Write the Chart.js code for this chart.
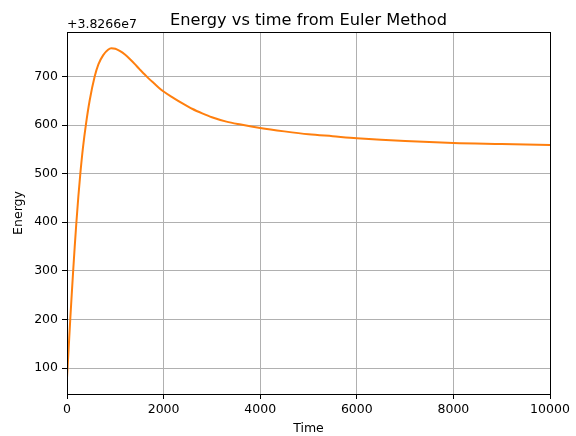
<!DOCTYPE html>
<html>
<head>
<meta charset="utf-8">
<script src="https://cdn.jsdelivr.net/npm/chart.js@4/dist/chart.umd.min.js"></script>
<style>
  html, body { margin: 0; padding: 0; background: #fff; }
  #wrap { width: 576px; height: 436px; }
</style>
</head>
<body>
<div id="wrap"><canvas id="energyChart" width="576" height="436"></canvas></div>
<script>
// energy offset shown on the axis (+3.8266e7), values below are relative to it
const energyOffsetLabel = "+3.8266e7";
const chartTitle = "Energy vs time from Euler Method";
const times = [0, 30, 69, 100, 124, 160, 193, 235, 276, 330, 393, 470, 573, 650, 750, 850, 917,
  1000, 1100, 1200, 1300, 1400, 1500, 1600, 1700, 1800, 1900, 2000, 2200, 2400, 2600, 2800,
  3000, 3300, 3600, 4000, 4500, 5000, 5500, 6000, 7000, 8000, 9000, 10000];
const energies = [80, 133, 203, 255, 294, 350, 398, 453, 500, 553, 602, 651, 700, 725, 744, 755, 758,
  757, 752, 745, 736, 726, 715, 705, 695, 686, 677, 669, 656, 644, 633, 624,
  616, 607, 601, 594, 587, 581, 577, 573, 567, 563, 561, 559];
const xTicks = [0, 2000, 4000, 6000, 8000, 10000];
const yTicks = [100, 200, 300, 400, 500, 600, 700];

const font = "'DejaVu Sans', sans-serif";

const points = times.map((t, i) => ({ x: t, y: energies[i] }));

// spines, title and offset text, like matplotlib
const framePlugin = {
  id: "frame",
  afterDatasetsDraw(chart) {
    const { ctx, chartArea: a } = chart;
    ctx.save();
    ctx.strokeStyle = "#000";
    ctx.lineWidth = 1;
    ctx.strokeRect(Math.round(a.left) + 0.5, Math.round(a.top) + 0.5,
      Math.round(a.right - a.left), Math.round(a.bottom - a.top));
    ctx.fillStyle = "#000";
    ctx.font = "12.5px " + font;
    ctx.textAlign = "left";
    ctx.textBaseline = "alphabetic";
    ctx.fillText(energyOffsetLabel, a.left, a.top - 4);
    ctx.font = "16.2px " + font;
    ctx.textAlign = "center";
    ctx.fillText(chartTitle, (a.left + a.right) / 2, 25);
    ctx.restore();
  },
};

const ctx = document.getElementById("energyChart").getContext("2d");
const chart = new Chart(ctx, {
  type: "line",
  data: {
    datasets: [
      {
        label: "energy",
        data: points,
        borderColor: "#ff7f0e",
        borderWidth: 2,
        pointRadius: 0,
        fill: false,
        cubicInterpolationMode: "monotone",
      },
    ],
  },
  options: {
    responsive: false,
    animation: false,
    layout: { padding: { left: 0, right: 26, top: 32, bottom: 0 } },
    plugins: {
      legend: { display: false },
      tooltip: { enabled: false },
      title: { display: false },
    },
    scales: {
      x: {
        type: "linear",
        min: 0,
        max: 10000,
        afterFit: (s) => { s.height = 42; },
        afterBuildTicks: (s) => { s.ticks = xTicks.map((v) => ({ value: v })); },
        ticks: {
          color: "#000",
          padding: 3,
          maxRotation: 0,
          font: { family: font, size: 12.5 },
          callback: (v) => String(v),
        },
        grid: { color: "#b0b0b0", lineWidth: 1, tickLength: 5, tickColor: "#000" },
        border: { color: "#000", width: 1 },
        title: {
          display: true,
          text: "Time",
          color: "#000",
          font: { family: font, size: 12.5 },
          padding: 0,
        },
      },
      y: {
        type: "linear",
        min: 46.5,
        max: 791.5,
        afterFit: (s) => { s.width = 67; },
        afterBuildTicks: (s) => { s.ticks = yTicks.map((v) => ({ value: v })); },
        ticks: {
          color: "#000",
          padding: 4,
          font: { family: font, size: 12.5 },
          callback: (v) => String(v),
        },
        grid: { color: "#b0b0b0", lineWidth: 1, tickLength: 5, tickColor: "#000" },
        border: { color: "#000", width: 1 },
        title: {
          display: true,
          text: "Energy",
          color: "#000",
          font: { family: font, size: 12.5 },
          padding: { top: 11, bottom: 0 },
        },
      },
    },
  },
  plugins: [framePlugin],
});
</script>
</body>
</html>
